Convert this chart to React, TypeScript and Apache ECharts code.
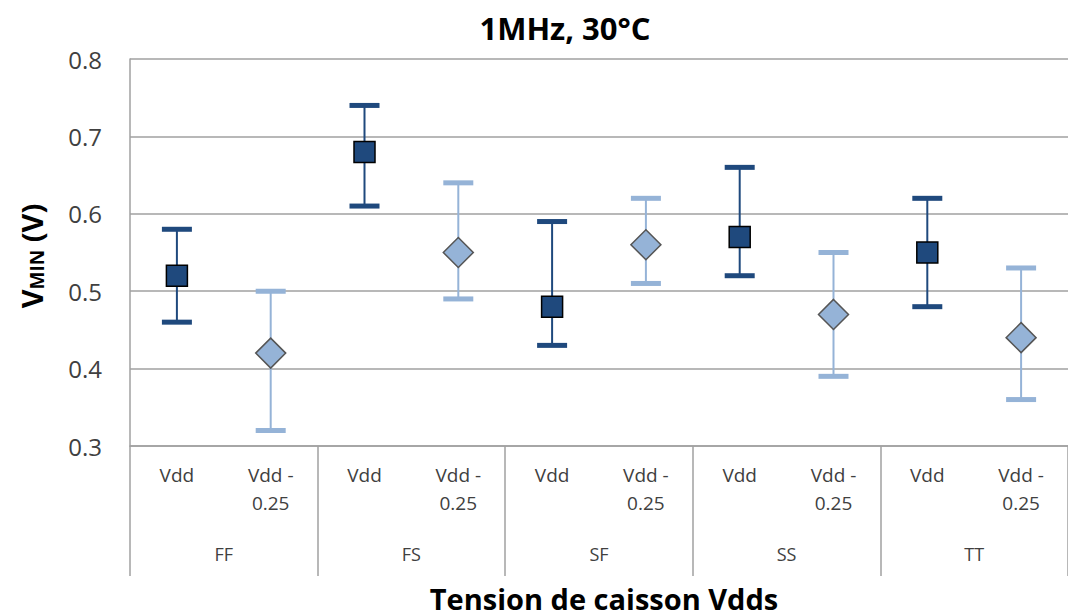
import React, { useEffect, useRef } from "react";
import * as echarts from "echarts";

const groups = ["FF", "FS", "SF", "SS", "TT"];
const subLabels = ["Vdd", "Vdd -\n0.25"];
const yTicks = [0.3, 0.4, 0.5, 0.6, 0.7, 0.8];

// Vdd series (dark squares)
const vddMean = [0.52, 0.68, 0.48, 0.57, 0.55];
const vddHigh = [0.58, 0.74, 0.59, 0.66, 0.62];
const vddLow = [0.46, 0.61, 0.43, 0.52, 0.48];

// Vdd - 0.25 series (light diamonds)
const lowMean = [0.42, 0.55, 0.56, 0.47, 0.44];
const lowHigh = [0.5, 0.64, 0.62, 0.55, 0.53];
const lowLow = [0.32, 0.49, 0.51, 0.39, 0.36];

const DARK = "#1F497D";
const LIGHT = "#95B3D7";
const FONT = "'Open Sans', Lato, sans-serif";

const categories: string[] = [];
groups.forEach(() => subLabels.forEach((s) => categories.push(s)));

function errData(mean: number[], high: number[], low: number[], offset: number) {
  return mean.map((m, i) => [i * 2 + offset, m, high[i], low[i]]);
}

function makeErrRender(color: string) {
  return (params: any, api: any) => {
    const x = api.value(0);
    const hi = api.coord([x, api.value(2)]);
    const lo = api.coord([x, api.value(3)]);
    const hw = 15;
    const th = 5;
    return {
      type: "group",
      children: [
        {
          type: "line",
          shape: { x1: hi[0], y1: hi[1], x2: lo[0], y2: lo[1] },
          style: { stroke: color, lineWidth: 2 },
        },
        {
          type: "rect",
          shape: { x: hi[0] - hw, y: hi[1] - th / 2, width: hw * 2, height: th },
          style: { fill: color },
        },
        {
          type: "rect",
          shape: { x: lo[0] - hw, y: lo[1] - th / 2, width: hw * 2, height: th },
          style: { fill: color },
        },
      ],
    };
  };
}

export default function App() {
  const ref = useRef<HTMLDivElement>(null);
  useEffect(() => {
    const chart = echarts.init(ref.current!, undefined, { renderer: "svg" });
    const vddErr = errData(vddMean, vddHigh, vddLow, 0);
    const lowErr = errData(lowMean, lowHigh, lowLow, 1);
    chart.setOption({
      animation: false,
      backgroundColor: "#ffffff",
      grid: { left: 130, right: 0, top: 59, bottom: 170 },
      xAxis: [
        {
          type: "category",
          data: categories,
          boundaryGap: true,
          axisLine: { show: true, lineStyle: { color: "#A0A0A0", width: 1.5 } },
          axisTick: { show: false },
          axisLabel: {
            interval: 0,
            margin: 15,
            fontFamily: FONT,
            fontSize: 19,
            lineHeight: 28,
            color: "#404040",
            verticalAlign: "top",
          },
          splitLine: { show: false },
        },
        {
          type: "category",
          data: groups,
          boundaryGap: true,
          position: "bottom",
          axisLine: { show: false },
          axisTick: {
            show: true,
            interval: 0,
            length: 130,
            lineStyle: { color: "#A0A0A0", width: 1.5 },
          },
          axisLabel: {
            interval: 0,
            margin: 99,
            fontFamily: FONT,
            fontSize: 18,
            color: "#404040",
          },
        },
      ],
      yAxis: {
        type: "value",
        min: 0.3,
        max: 0.8,
        interval: 0.1,
        axisLine: { show: true, lineStyle: { color: "#A0A0A0", width: 1.5 } },
        axisTick: { show: false },
        axisLabel: {
          margin: 28,
          fontFamily: FONT,
          fontSize: 24,
          color: "#404040",
          formatter: (v: number) => (yTicks.some((t) => Math.abs(t - v) < 1e-9) ? v.toFixed(1) : ""),
        },
        splitLine: { show: true, lineStyle: { color: "#A0A0A0", width: 1.5 } },
      },
      graphic: [
        {
          type: "text",
          x: 565,
          y: 28,
          style: {
            text: "1MHz, 30°C",
            font: `bold 31px ${FONT}`,
            fill: "#000000",
            align: "center",
            verticalAlign: "middle",
          },
        },
        {
          type: "text",
          x: 604,
          y: 598,
          style: {
            text: "Tension de caisson Vdds",
            font: `bold 29px ${FONT}`,
            fill: "#000000",
            align: "center",
            verticalAlign: "middle",
          },
        },
        {
          type: "text",
          x: 29,
          y: 256,
          rotation: Math.PI / 2,
          style: {
            text: "{a|V}{b|MIN}{a| (V)}",
            align: "center",
            verticalAlign: "middle",
            fill: "#000000",
            rich: {
              a: { fontFamily: FONT, fontWeight: "bold", fontSize: 29, fill: "#000", verticalAlign: "bottom", lineHeight: 34 },
              b: { fontFamily: FONT, fontWeight: "bold", fontSize: 19, fill: "#000", verticalAlign: "bottom", lineHeight: 26 },
            },
          },
        },
      ],
      series: [
        {
          type: "custom",
          xAxisIndex: 0,
          renderItem: makeErrRender(DARK),
          data: vddErr,
          encode: { x: 0, y: [1, 2, 3] },
          z: 2,
        },
        {
          type: "custom",
          xAxisIndex: 0,
          renderItem: makeErrRender(LIGHT),
          data: lowErr,
          encode: { x: 0, y: [1, 2, 3] },
          z: 2,
        },
        {
          type: "scatter",
          xAxisIndex: 0,
          symbol: "rect",
          symbolSize: 21,
          data: vddErr.map((d) => [d[0], d[1]]),
          itemStyle: { color: DARK, borderColor: "#000000", borderWidth: 1.5, opacity: 1 },
          z: 5,
        },
        {
          type: "scatter",
          xAxisIndex: 0,
          symbol: "diamond",
          symbolSize: 30,
          data: lowErr.map((d) => [d[0], d[1]]),
          itemStyle: { color: LIGHT, borderColor: "#555555", borderWidth: 1.5, opacity: 1 },
          z: 5,
        },
      ],
    });
    return () => chart.dispose();
  }, []);
  return (
    <div
      ref={ref}
      style={{ position: "absolute", left: 0, top: 0, width: 1068, height: 616 }}
    />
  );
}
